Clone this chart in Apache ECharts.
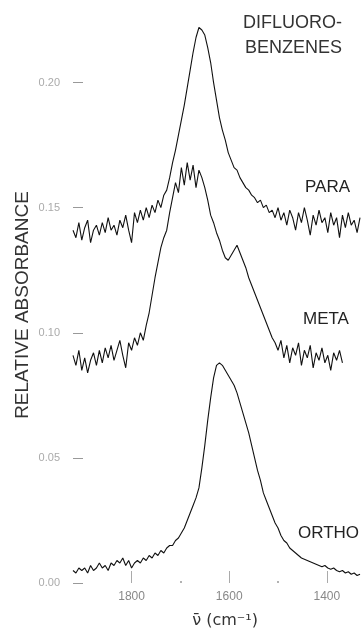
<!DOCTYPE html>
<html>
<head>
<meta charset="utf-8">
<script src="https://cdn.jsdelivr.net/npm/echarts@6/dist/echarts.min.js"></script>
<style>
  html, body { margin: 0; padding: 0; background: #fff; }
  #chart { width: 362px; height: 629px; }
</style>
</head>
<body>
<div id="chart"></div>
<script>
// Sampling grid of the scans: 1920 cm-1 down to 1332 cm-1, every 6 cm-1
const wavenumbers = Array.from({ length: 99 }, (_, i) => 1920 - 6 * i);

// Relative absorbance, one value per wavenumber
const para = [
  0.141, 0.138, 0.144, 0.137, 0.142, 0.145, 0.136, 0.141, 0.143, 0.139,
  0.144, 0.140, 0.146, 0.141, 0.143, 0.139, 0.145, 0.142, 0.147, 0.141,
  0.136, 0.148, 0.144, 0.149, 0.145, 0.150, 0.146, 0.151, 0.148, 0.153,
  0.150, 0.155, 0.157, 0.162, 0.168, 0.173, 0.179, 0.185, 0.191, 0.198,
  0.205, 0.212, 0.218, 0.222, 0.221, 0.219, 0.214, 0.208, 0.200, 0.193,
  0.186, 0.181, 0.177, 0.172, 0.169, 0.166, 0.165, 0.162, 0.160, 0.158,
  0.157, 0.155, 0.154, 0.152, 0.153, 0.150, 0.151, 0.148, 0.149, 0.146,
  0.150, 0.145, 0.148, 0.143, 0.149, 0.146, 0.141, 0.148, 0.144, 0.150,
  0.145, 0.139, 0.147, 0.143, 0.149, 0.144, 0.146, 0.140, 0.148, 0.143,
  0.146, 0.138, 0.147, 0.142, 0.148, 0.143, 0.145, 0.140, 0.146
];

const meta = [
  0.091, 0.087, 0.093, 0.085, 0.090, 0.084, 0.089, 0.092, 0.087, 0.093,
  0.088, 0.094, 0.090, 0.095, 0.089, 0.093, 0.097, 0.091, 0.086, 0.096,
  0.093, 0.098, 0.095, 0.100, 0.097, 0.103, 0.108, 0.115, 0.122, 0.128,
  0.134, 0.138, 0.141, 0.148, 0.154, 0.160, 0.156, 0.166, 0.159, 0.168,
  0.161, 0.167, 0.158, 0.165, 0.162, 0.158, 0.153, 0.147, 0.144, 0.140,
  0.137, 0.133, 0.130, 0.129, 0.131, 0.133, 0.135, 0.132, 0.129, 0.126,
  0.122, 0.119, 0.116, 0.113, 0.110, 0.107, 0.104, 0.101, 0.098, 0.096,
  0.093, 0.097, 0.090, 0.095, 0.088, 0.094, 0.091, 0.096, 0.087, 0.093,
  0.090, 0.095, 0.086, 0.092, 0.089, 0.094, 0.088, 0.091, 0.085, 0.092,
  0.089, 0.093, 0.088
];

const ortho = [
  0.005, 0.004, 0.006, 0.005, 0.006, 0.004, 0.007, 0.005, 0.006, 0.008,
  0.006, 0.007, 0.005, 0.008, 0.007, 0.009, 0.008, 0.010, 0.007, 0.009,
  0.006, 0.008, 0.009, 0.008, 0.010, 0.009, 0.011, 0.010, 0.012, 0.011,
  0.013, 0.012, 0.014, 0.015, 0.015, 0.017, 0.018, 0.020, 0.022, 0.025,
  0.028, 0.031, 0.034, 0.038, 0.046, 0.055, 0.065, 0.074, 0.082, 0.087,
  0.088, 0.087, 0.085, 0.083, 0.081, 0.079, 0.076, 0.072, 0.068, 0.064,
  0.060, 0.055, 0.050, 0.045, 0.041, 0.036, 0.033, 0.030, 0.027, 0.024,
  0.022, 0.019, 0.017, 0.016, 0.014, 0.013, 0.012, 0.011, 0.010, 0.0095,
  0.009, 0.0085, 0.008, 0.0075, 0.007, 0.0065, 0.007, 0.006, 0.0055, 0.006,
  0.005, 0.0045, 0.005, 0.004, 0.0045, 0.0035, 0.004, 0.003, 0.0035
];

const yTicks = [0, 0.05, 0.10, 0.15, 0.20];
const xMajorTicks = [1800, 1600, 1400];
const xMinorTicks = [1700, 1500];

const toPairs = vals => vals.map((v, i) => [wavenumbers[i], v]);

const FONT = 'Liberation Sans';
const chart = echarts.init(document.getElementById('chart'), null, { renderer: 'canvas' });

const traceStyle = { color: '#111', width: 1.1 };

chart.setOption({
  animation: false,
  backgroundColor: '#fff',
  grid: { left: 73, right: 1, top: 20, bottom: 46 },
  xAxis: [
    {
      type: 'value', min: 1330, max: 1920, inverse: true,
      axisLine: { show: false },
      splitLine: { show: false },
      axisTick: {
        inside: true, length: 12, customValues: xMajorTicks,
        lineStyle: { color: '#aaa', width: 1 }
      },
      axisLabel: {
        customValues: xMajorTicks, margin: 8,
        color: '#888', fontFamily: FONT, fontSize: 12,
        formatter: v => String(v)
      }
    },
    {
      type: 'value', min: 1330, max: 1920, inverse: true, position: 'bottom',
      axisLine: { show: false }, splitLine: { show: false },
      axisLabel: { show: false },
      axisTick: {
        inside: true, length: 2, customValues: xMinorTicks,
        lineStyle: { color: '#999', width: 1.5 }
      }
    }
  ],
  yAxis: {
    type: 'value', min: 0, max: 0.225,
    axisLine: { show: false },
    splitLine: { show: false },
    axisTick: {
      inside: true, length: 10, customValues: yTicks,
      lineStyle: { color: '#999', width: 1 }
    },
    axisLabel: {
      customValues: yTicks, margin: 13,
      color: '#aaa', fontFamily: FONT, fontSize: 11,
      formatter: v => v.toFixed(2)
    }
  },
  series: [
    { name: 'PARA', type: 'line', data: toPairs(para), showSymbol: false, lineStyle: traceStyle, itemStyle: { color: '#111' } },
    { name: 'META', type: 'line', data: toPairs(meta), showSymbol: false, lineStyle: traceStyle, itemStyle: { color: '#111' } },
    { name: 'ORTHO', type: 'line', data: toPairs(ortho), showSymbol: false, lineStyle: traceStyle, itemStyle: { color: '#111' } }
  ],
  graphic: [
    { type: 'text', left: 243, top: 14, style: { text: 'DIFLUORO-', font: '18px "Liberation Sans"', fill: '#333' } },
    { type: 'text', left: 245, top: 39, style: { text: 'BENZENES', font: '18px "Liberation Sans"', fill: '#333' } },
    { type: 'text', left: 305, top: 179, style: { text: 'PARA', font: '17px "Liberation Sans"', fill: '#222' } },
    { type: 'text', left: 303, top: 311, style: { text: 'META', font: '17px "Liberation Sans"', fill: '#222' } },
    { type: 'text', left: 298, top: 525, style: { text: 'ORTHO', font: '17px "Liberation Sans"', fill: '#222' } },
    {
      type: 'text', x: 23, y: 305, rotation: Math.PI / 2,
      style: { text: 'RELATIVE ABSORBANCE', font: '19px "Liberation Sans"', fill: '#333', align: 'center', verticalAlign: 'middle' }
    },
    {
      type: 'text', x: 225, y: 621,
      style: { text: 'ν̄ (cm⁻¹)', font: '16px "DejaVu Sans"', fill: '#333', align: 'center', verticalAlign: 'middle' }
    }
  ]
});
</script>
</body>
</html>
